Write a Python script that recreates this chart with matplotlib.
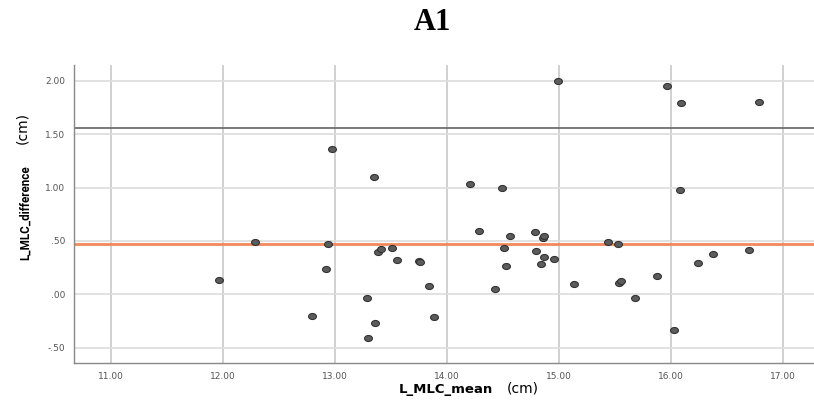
import matplotlib
matplotlib.use('Agg')
import matplotlib.pyplot as plt
from matplotlib.markers import MarkerStyle
from matplotlib.transforms import Affine2D

# 均值与差值数据
mlc_mean = [11.97, 12.29, 12.80, 12.92, 12.94, 12.98, 13.29, 13.30, 13.35, 13.36,
            13.39, 13.41, 13.51, 13.56, 13.75, 13.76, 13.84, 13.89, 14.21, 14.29,
            14.43, 14.49, 14.51, 14.53, 14.57, 14.79, 14.80, 14.84, 14.86, 14.87,
            14.87, 14.96, 14.99, 15.14, 15.44, 15.53, 15.54, 15.56, 15.68, 15.88,
            15.97, 16.03, 16.08, 16.09, 16.24, 16.38, 16.70, 16.79]
mlc_diff = [0.137, 0.49, -0.20, 0.24, 0.471, 1.365, -0.032, -0.41, 1.097, -0.272,
            0.393, 0.422, 0.434, 0.321, 0.309, 0.30, 0.081, -0.213, 1.034, 0.593,
            0.05, 0.996, 0.434, 0.262, 0.543, 0.584, 0.403, 0.284, 0.525, 0.543,
            0.352, 0.334, 2.00, 0.094, 0.49, 0.471, 0.103, 0.122, -0.032, 0.172,
            1.949, -0.332, 0.975, 1.796, 0.29, 0.381, 0.412, 1.805]

mean_line = 0.469
upper_line = 1.556

x_ticks = [11, 12, 13, 14, 15, 16, 17]
y_ticks = [-0.5, 0.0, 0.5, 1.0, 1.5, 2.0]
y_tick_labels = ['-.50', '.00', '.50', '1.00', '1.50', '2.00']

fig = plt.figure(figsize=(8.14, 4.01), dpi=100)
ax = fig.add_axes([0.0905, 0.094, 0.9095, 0.744])

ax.set_xlim(10.67, 17.28)
ax.set_ylim(-0.647, 2.149)

# 网格线
for xv in x_ticks:
    ax.axvline(xv, color='#c8c8c8', lw=1.2, zorder=0)
for yv in y_ticks:
    ax.axhline(yv, color='#dcdcdc', lw=1.2, zorder=0)

ax.axhline(upper_line, color='#6e6e6e', lw=1.3, zorder=1)
ax.axhline(mean_line, color='#f2895a', lw=2.0, zorder=1)

marker = MarkerStyle('o', transform=Affine2D().scale(1.3, 1.0))
ax.scatter(mlc_mean, mlc_diff, marker=marker, s=19, c='#5c5c5c',
           edgecolors='#333333', linewidths=0.8, zorder=3)

ax.set_xticks(x_ticks)
ax.set_xticklabels(['%.2f' % v for v in x_ticks])
ax.set_yticks(y_ticks)
ax.set_yticklabels(y_tick_labels)
ax.tick_params(length=0, labelsize=6.5, labelcolor='#555555', pad=6)

for s in ['top', 'right']:
    ax.spines[s].set_visible(False)
for s in ['left', 'bottom']:
    ax.spines[s].set_color('#888888')
    ax.spines[s].set_linewidth(1.0)

fig.text(0.531, 0.945, 'A1', ha='center', va='center', fontsize=22,
         fontweight='bold', family='Liberation Serif')

fig.text(0.031, 0.47, 'L_MLC_difference', rotation=90, ha='center', va='center',
         fontsize=8.4, fontweight='bold', family='Roboto')
fig.text(0.027, 0.68, '(cm)', rotation=90, ha='center', va='center', fontsize=10,
         family='DejaVu Sans')

fig.text(0.548, 0.028, 'L_MLC_mean', ha='center', va='center', fontsize=9.5,
         fontweight='bold', family='DejaVu Sans')
fig.text(0.642, 0.032, '(cm)', ha='center', va='center', fontsize=10,
         family='DejaVu Sans')

fig.savefig('out.png', dpi=100)
